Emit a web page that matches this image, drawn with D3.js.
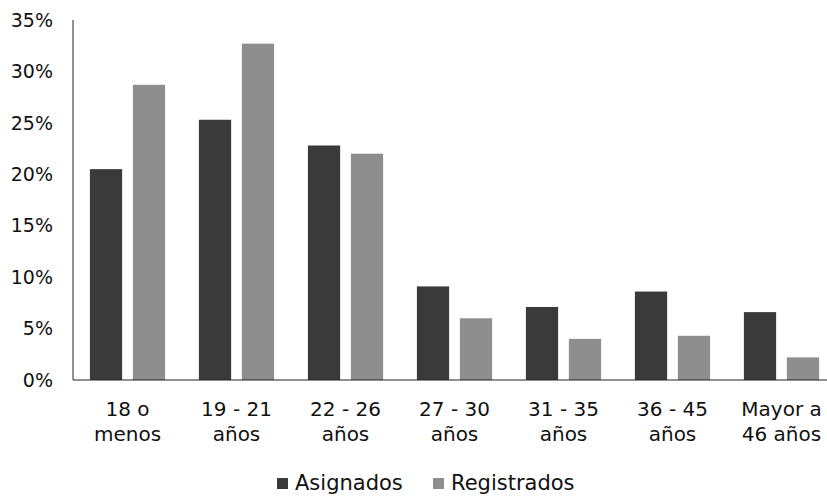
<!DOCTYPE html>
<html>
<head>
<meta charset="utf-8">
<script src="https://cdn.jsdelivr.net/npm/d3@7"></script>
<style>
  body { margin: 0; background: #fff; }
  text { font-family: "DejaVu Sans", sans-serif; fill: #111; }
</style>
</head>
<body>
<svg id="chart" width="827" height="499"></svg>
<script>
// Age groups, each label split into two lines.
const categories = [
    ["18 o", "menos"],
    ["19 - 21", "años"],
    ["22 - 26", "años"],
    ["27 - 30", "años"],
    ["31 - 35", "años"],
    ["36 - 45", "años"],
    ["Mayor a", "46 años"]
];
const seriesNames = ["Asignados", "Registrados"];
const asignados = [20.5, 25.3, 22.8, 9.1, 7.1, 8.6, 6.6];
const registrados = [28.7, 32.7, 22.0, 6.0, 4.0, 4.3, 2.2];
const yTicks = [0, 5, 10, 15, 20, 25, 30, 35];

const colors = ["#3a3a3a", "#8e8e8e"];

// The plot runs off the right edge of the picture a little.
const margin = { top: 20, left: 73, bottom: 119 };
const height = 499 - margin.top - margin.bottom;
const width = 763;

const svg = d3.select("#chart")
    .append("g")
    .attr("transform", `translate(${margin.left},${margin.top})`);

const x = d3.scaleBand()
    .domain(d3.range(categories.length))
    .range([0, width])
    .paddingInner(0.31)
    .paddingOuter(0.155);

const xInner = d3.scaleBand()
    .domain([0, 1])
    .range([0, x.bandwidth()])
    .paddingInner(0.25);

const y = d3.scaleLinear()
    .domain([0, 35])
    .range([height, 0]);

const rows = categories.map((c, i) => [asignados[i], registrados[i]]);

const groups = svg.selectAll("g.group")
    .data(rows)
    .join("g")
    .attr("class", "group")
    .attr("transform", (d, i) => `translate(${x(i)},0)`);

groups.selectAll("rect")
    .data(d => d)
    .join("rect")
    .attr("x", (d, j) => xInner(j))
    .attr("width", xInner.bandwidth())
    .attr("y", d => y(d))
    .attr("height", d => height - y(d))
    .attr("fill", (d, j) => colors[j]);

// Axis lines -- left and bottom only.
svg.append("line")
    .attr("x1", 0).attr("x2", 0)
    .attr("y1", 0).attr("y2", height)
    .attr("stroke", "#222").attr("stroke-width", 1);
svg.append("line")
    .attr("x1", 0).attr("x2", width)
    .attr("y1", height).attr("y2", height)
    .attr("stroke", "#222").attr("stroke-width", 1);

// Y tick labels.
svg.selectAll("text.ytick")
    .data(yTicks)
    .join("text")
    .attr("class", "ytick")
    .attr("x", -20)
    .attr("y", d => y(d))
    .attr("dy", "0.35em")
    .attr("text-anchor", "end")
    .style("font-size", "19px")
    .text(d => `${d}%`);

// X category labels, two lines each.
const xl = svg.selectAll("text.xlabel")
    .data(categories)
    .join("text")
    .attr("class", "xlabel")
    .attr("text-anchor", "middle")
    .attr("transform", (d, i) => `translate(${x(i) + x.bandwidth() / 2},${height + 36})`)
    .style("font-size", "20px");
xl.append("tspan").attr("x", 0).attr("y", 0).text(d => d[0]);
xl.append("tspan").attr("x", 0).attr("y", 25).text(d => d[1]);

// Legend.
const legendPos = [277, 433];
const legend = d3.select("#chart").selectAll("g.legend")
    .data(seriesNames)
    .join("g")
    .attr("class", "legend")
    .attr("transform", (d, i) => `translate(${legendPos[i]},478)`);
legend.append("rect")
    .attr("width", 11).attr("height", 11)
    .attr("fill", (d, i) => colors[i]);
legend.append("text")
    .attr("x", 18)
    .attr("y", 12)
    .style("font-size", "21px")
    .text(d => d);
</script>
</body>
</html>
